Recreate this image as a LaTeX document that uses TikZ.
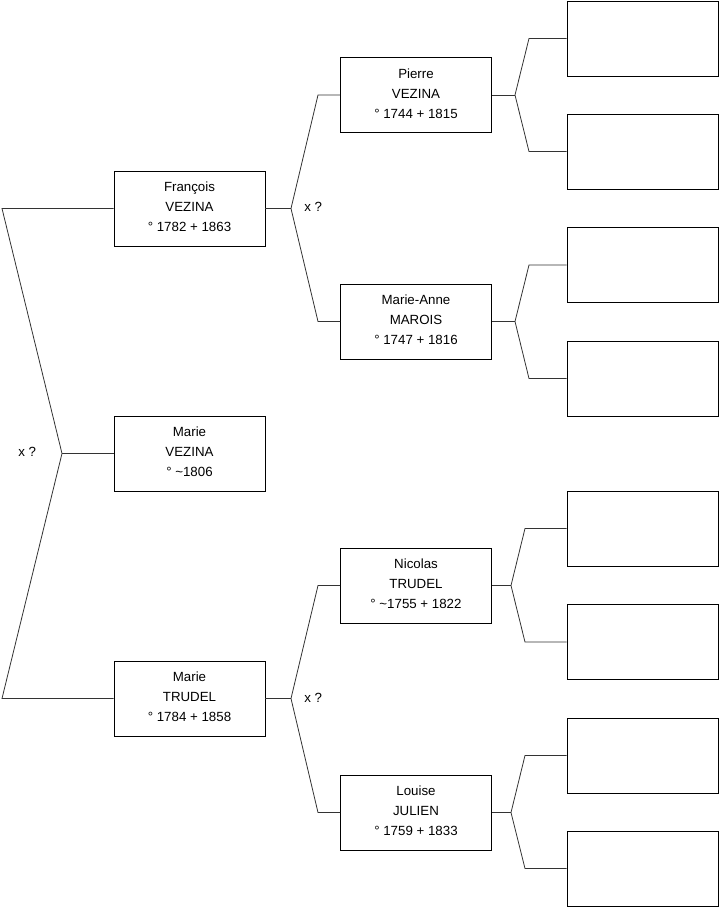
\documentclass[tikz,border=0pt]{standalone}
\usepackage{fontspec}
\setmainfont{Liberation Sans}
\begin{document}
\begin{tikzpicture}
  [x=1pt,y=-1pt,line width=0.8pt,
   every node/.style={font=\fontsize{13.3}{20}\selectfont},
   person/.style={draw=black,minimum width=151pt,minimum height=75pt,align=center,inner sep=0pt,text depth=3pt},
   union/.style={anchor=west,inner sep=0pt},
   link/.style={draw=black!80}]
  \useasboundingbox (0,0) rectangle (719,908);

  \node[person] (marie) at (189.5,453.5) {Marie\\VEZINA\\° \textasciitilde1806};
  \node[person] (francois) at (189.5,208.5) {François\\VEZINA\\° 1782 + 1863};
  \node[person] (trudel) at (189.5,698.5) {Marie\\TRUDEL\\° 1784 + 1858};
  \node[person] (pierre) at (416,95) {Pierre\\VEZINA\\° 1744 + 1815};
  \node[person] (marianne) at (416,321.5) {Marie-Anne\\MAROIS\\° 1747 + 1816};
  \node[person] (nicolas) at (416,585.5) {Nicolas\\TRUDEL\\° \textasciitilde1755 + 1822};
  \node[person] (louise) at (416,812.5) {Louise\\JULIEN\\° 1759 + 1833};

  \foreach \n/\y in {1/38.5, 2/151.5, 3/265, 4/378.5, 5/528.5, 6/642, 7/755.5, 8/868.5}
    \node[person] (g\n) at (642.5,\y) {};

  \node[union] (x1) at (18,452) {x ?};
  \node[union] (x2) at (304,207) {x ?};
  \node[union] (x3) at (304,698) {x ?};

  \foreach \kid/\side/\dad/\mum/\jx/\cx in {marie/west/francois/trudel/62/2, francois/east/pierre/marianne/291/318,
      trudel/east/nicolas/louise/291/318, pierre/east/g1/g2/515/529, marianne/east/g3/g4/515/529,
      nicolas/east/g5/g6/511/525, louise/east/g7/g8/511/525}
  {
    \draw[link] (\dad.west) -- (\cx,0 |- \dad) -- (\jx,0 |- \kid) -- (\cx,0 |- \mum) -- (\mum.west);
    \draw[link] (\kid.\side) -- (\jx,0 |- \kid);
  }

\end{tikzpicture}
\end{document}
